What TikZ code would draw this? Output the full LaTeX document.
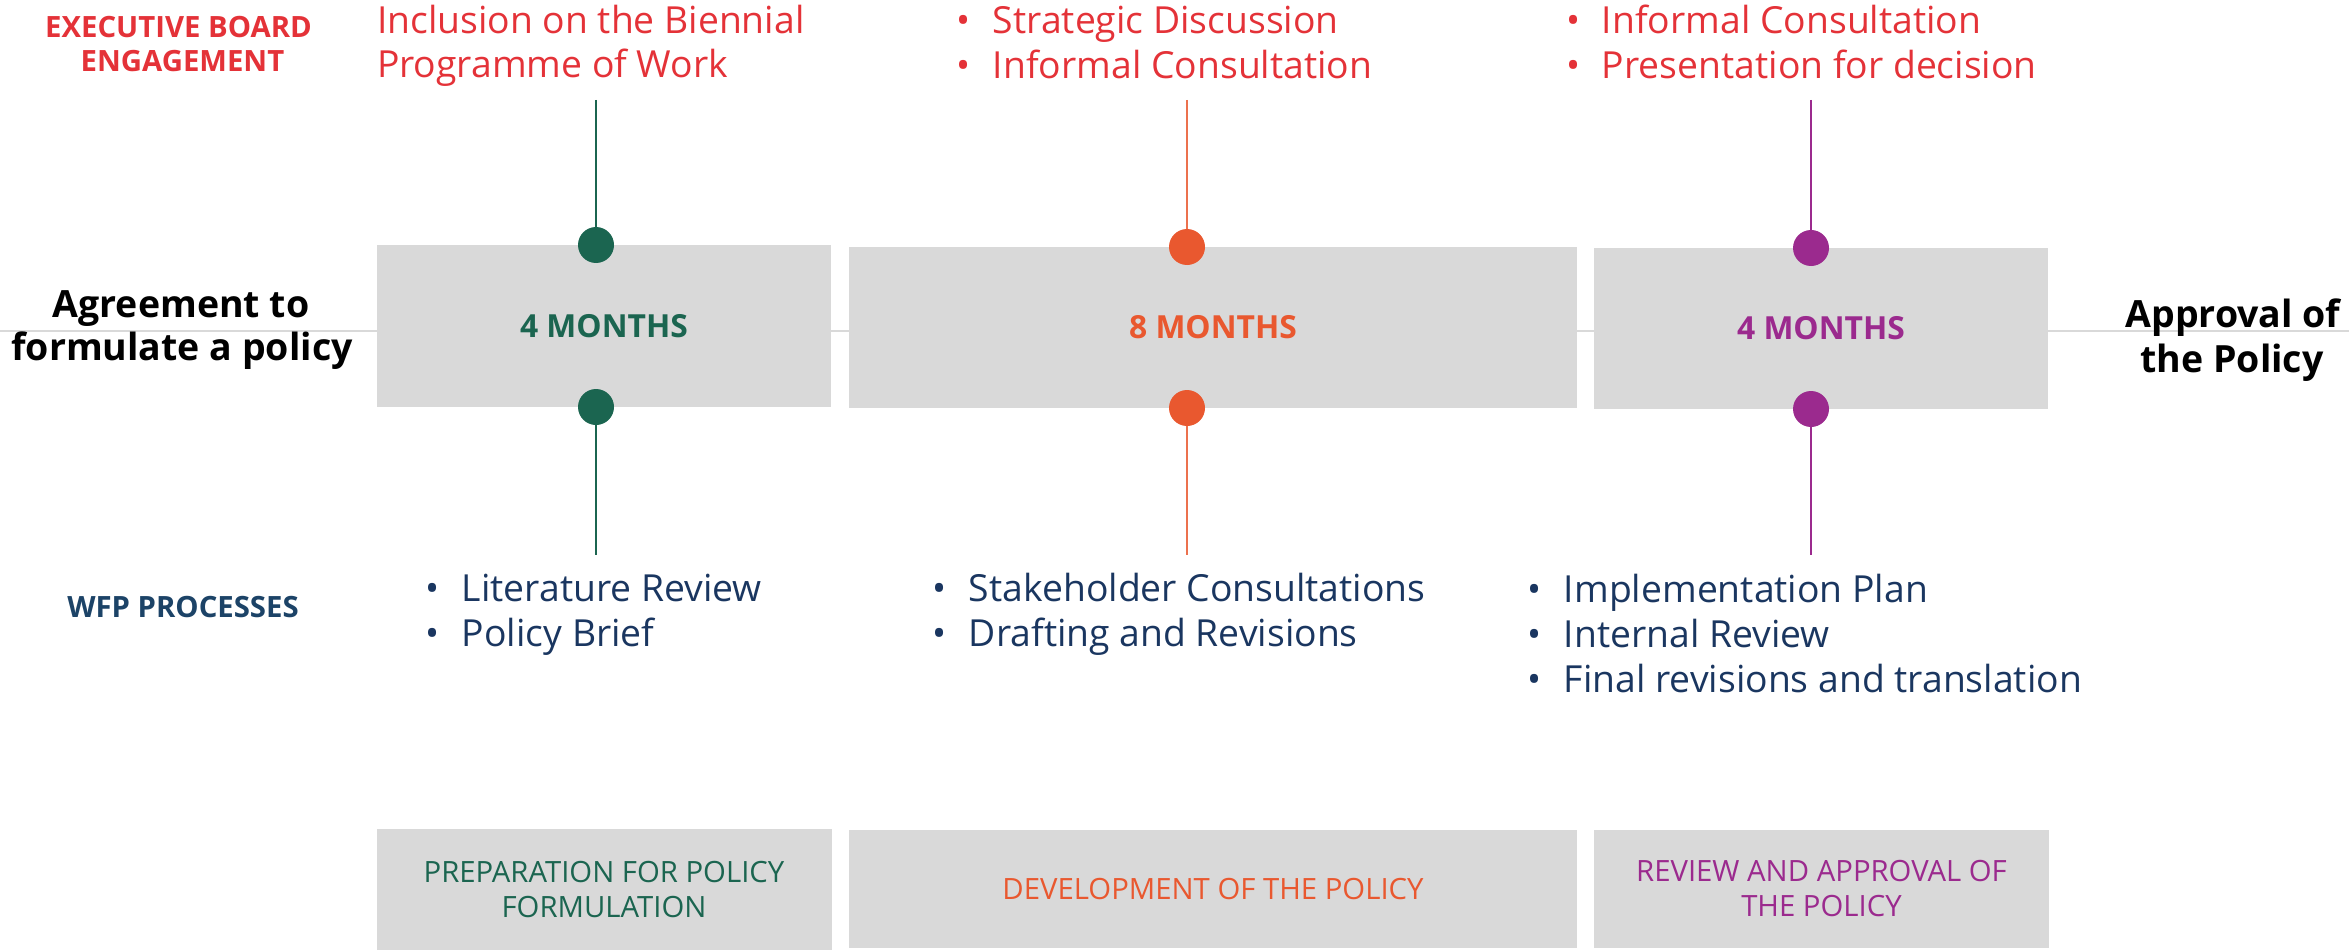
\documentclass[tikz,border=0pt]{standalone}
\usepackage{fontspec}
\setmainfont{Open Sans}
\definecolor{ebred}{RGB}{228,50,56}
\definecolor{wfpgreen}{RGB}{27,101,80}
\definecolor{wfporange}{RGB}{233,88,47}
\definecolor{wfppurple}{RGB}{155,42,142}
\definecolor{navytext}{RGB}{26,54,96}
\definecolor{wfpblue}{RGB}{28,67,103}
\definecolor{boxgray}{RGB}{217,217,217}
\newcommand{\bul}{\llap{\textbullet\hspace{22pt}}}
\begin{document}
\begin{tikzpicture}[x=1pt,y=-1pt,
  every node/.style={inner sep=0pt,outer sep=0pt},
  phase/.style={fill=boxgray,draw=none,align=center},
  dotnode/.style={circle,minimum size=36pt,draw=none,fill=#1},
  stem/.style={draw=#1,line width=1.6pt},
  redtxt/.style={font=\fontsize{37.3}{44}\selectfont,text=ebred,anchor=base west},
  navytxt/.style={font=\fontsize{37.3}{44}\selectfont,text=navytext,anchor=base west},
  headlbl/.style={font=\bfseries\fontsize{29.3}{34}\selectfont,anchor=base},
  milestone/.style={font=\bfseries\fontsize{37.5}{44}\selectfont,text=black,anchor=base},
  months/.style={font=\bfseries\fontsize{31.8}{34}\selectfont},
  phasetxt/.style={font=\fontsize{29.3}{35}\selectfont}
]
\useasboundingbox (0,0) rectangle (2349,952);

% timeline
\coordinate (hl) at (0,331);
\coordinate (hr) at (2349,331);
\draw[draw=boxgray,line width=2pt] (hl) -- (hr);

% duration boxes
\node[phase,minimum width=454pt,minimum height=162pt,months,text=wfpgreen] (box1) at (604,326) {4 MONTHS};
\node[phase,minimum width=728pt,minimum height=161pt,months,text=wfporange] (box2) at (1213,327.5) {8 MONTHS};
\node[phase,minimum width=454pt,minimum height=161pt,months,text=wfppurple] (box3) at (1821,328.5) {4 MONTHS};

% stems end points
\coordinate (t1) at (596,100);
\coordinate (b1) at (596,555);
\coordinate (t2) at (1187,100);
\coordinate (b2) at (1187,555);
\coordinate (t3) at (1811,100);
\coordinate (b3) at (1811,555);

\node[dotnode=wfpgreen] (d1t) at (596,245) {};
\node[dotnode=wfpgreen] (d1b) at (596,407) {};
\node[dotnode=wfporange] (d2t) at (1187,247) {};
\node[dotnode=wfporange] (d2b) at (1187,408) {};
\node[dotnode=wfppurple] (d3t) at (1811,248) {};
\node[dotnode=wfppurple] (d3b) at (1811,409) {};

\draw[stem=wfpgreen] (t1) -- (d1t);
\draw[stem=wfpgreen] (d1b) -- (b1);
\draw[stem=wfporange!85] (t2) -- (d2t);
\draw[stem=wfporange!85] (d2b) -- (b2);
\draw[stem=wfppurple] (t3) -- (d3t);
\draw[stem=wfppurple] (d3b) -- (b3);

% row labels
\node[headlbl,text=ebred] (eb1) at (178.5,37.7) {EXECUTIVE BOARD};
\node[headlbl,text=ebred] (eb2) at (182.5,71.7) {ENGAGEMENT};
\node[headlbl,text=wfpblue] (wfp) at (183,617) {WFP PROCESSES};

% milestones
\node[milestone] (ag1) at (181,317) {Agreement to};
\node[milestone] (ag2) at (182,360) {formulate a policy};
\node[milestone] (ap1) at (2233,327) {Approval of};
\node[milestone] (ap2) at (2232,372) {the Policy};

% executive board engagement
\node[redtxt] (e11) at (377,34) {Inclusion on the Biennial};
\node[redtxt] (e12) at (377,78) {Programme of Work};
\node[redtxt] (e21) at (993,33.5) {\bul Strategic Discussion};
\node[redtxt] (e22) at (993,78.5) {\bul Informal Consultation};
\node[redtxt] (e31) at (1602,33.5) {\bul Informal Consultation};
\node[redtxt] (e32) at (1602,78.5) {\bul Presentation for decision};

% WFP processes
\node[navytxt] (w11) at (462,601) {\bul Literature Review};
\node[navytxt] (w12) at (462,646) {\bul Policy Brief};
\node[navytxt] (w21) at (969,601) {\bul Stakeholder Consultations};
\node[navytxt] (w22) at (969,646) {\bul Drafting and Revisions};
\node[navytxt] (w31) at (1564,602) {\bul Implementation Plan};
\node[navytxt] (w32) at (1564,647) {\bul Internal Review};
\node[navytxt] (w33) at (1564,692) {\bul Final revisions and translation};

% phase boxes
\node[phase,phasetxt,text=wfpgreen,minimum width=455pt,minimum height=121pt] (p1) at (604,889.5) {PREPARATION FOR POLICY\\FORMULATION};
\node[phase,phasetxt,text=wfporange,minimum width=728pt,minimum height=118pt] (p2) at (1213,889) {DEVELOPMENT OF THE POLICY};
\node[phase,phasetxt,text=wfppurple,minimum width=455pt,minimum height=118pt] (p3) at (1821.5,889) {REVIEW AND APPROVAL OF\\THE POLICY};
\end{tikzpicture}
\end{document}
